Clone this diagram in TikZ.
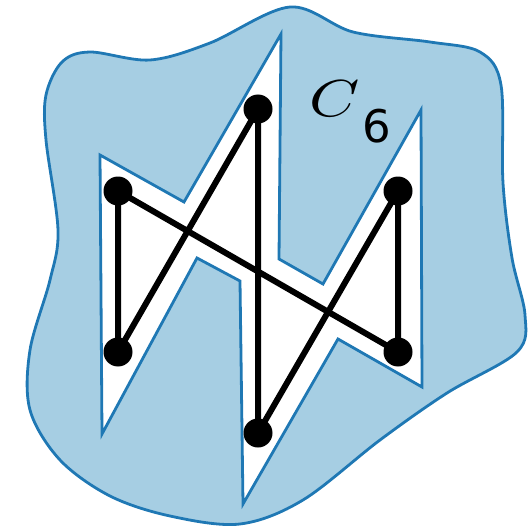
\documentclass[tikz,border=0pt]{standalone}
\usepackage{graphicx}
\usepackage{fontspec}
\newfontfamily\digitfont{DejaVu Sans}
\usepackage{xcolor}
\definecolor{regionfill}{HTML}{A6CEE3}
\definecolor{regionline}{HTML}{1F78B4}
\usepackage{tikz}
\usetikzlibrary{calc}
\tikzset{
  region/.style ={draw=regionline, line width=2.8pt, fill=regionfill, line join=round},
  hole/.style   ={draw=regionline, line width=2.8pt, fill=white, line join=miter},
  vertex/.style ={circle, fill=black, inner sep=0pt, minimum size=29pt},
  cedge/.style  ={line width=6pt, color=black},
  clbl/.style   ={inner sep=0pt, anchor=base west},
}
\newcommand{\cyclename}{\scalebox{6.4}[5.2]{$C$}\hspace{2.5pt}\raisebox{-26pt}{\fontsize{45}{45}\selectfont\digitfont 6}}

\begin{document}
\begin{tikzpicture}[x=1pt, y=-1pt]
  \useasboundingbox (0,0) rectangle (528,527);
  % outer region
  \draw[region] plot[smooth cycle, tension=0.55] coordinates {
    (290,7) (353,32) (430,42) (480,52) (501,85) (503,183) (512,258)
    (525,315) (517,352) (447,393) (380,440) (303,500) (240,524) (170,516)
    (110,496) (60,460) (30,410) (30,350) (50,280) (58,230) (46,140)
    (46,95) (62,62) (90,52) (150,60) (210,43)};
  % hole
  \draw[hole] (100,155) -- (184,202) -- (281,34) -- (279,259) -- (323,284)
    -- (421,110) -- (422,387) -- (338,339) -- (243,504) -- (240,281)
    -- (197,258) -- (102,434) -- cycle;
  % cycle graph
  \node[vertex] (a) at (118,191) {};
  \node[vertex] (b) at (118,352) {};
  \node[vertex] (c) at (258,109) {};
  \node[vertex] (d) at (258,433) {};
  \node[vertex] (e) at (398,191) {};
  \node[vertex] (f) at (398,352) {};
  \draw[cedge] (a.center) -- (b.center) -- (c.center) -- (d.center)
    -- (e.center) -- (f.center) -- (a.center);
  \node[clbl] (lbl) at (309,117) {\cyclename};
\end{tikzpicture}
\end{document}
